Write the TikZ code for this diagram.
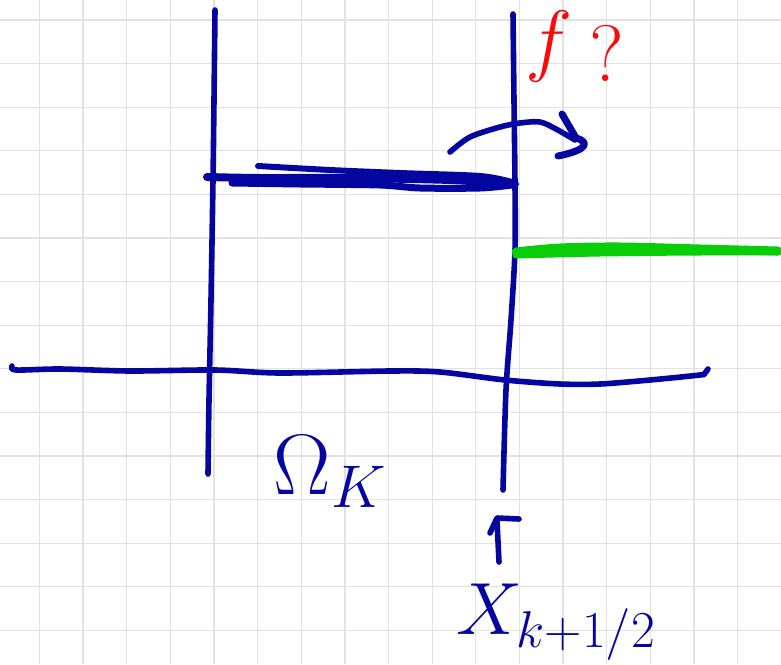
\RequirePackage{fix-cm}
\documentclass[tikz,border=0pt]{standalone}
\definecolor{ink}{RGB}{5,5,160}
\definecolor{inkred}{RGB}{250,10,10}
\definecolor{inkgreen}{RGB}{8,205,8}
\definecolor{gridgray}{RGB}{226,226,226}
\tikzset{
  gridline/.style={draw=gridgray,line width=1.3pt},
  pen/.style={draw=ink,line width=5.6pt,line cap=round,line join=round},
  marker/.style={draw=inkgreen,line cap=round,line join=round},
  label/.style={inner sep=0pt,text=ink},
}
\begin{document}
\begin{tikzpicture}[x=1pt,y=-1pt]
  \fill[white] (0,0) rectangle (781,664);
  \useasboundingbox (0,0) rectangle (781,664);
  % squared paper
  \foreach \k in {0,...,17} \draw[gridline] ({39.3+43.65*\k},0) -- ++(0,664);
  \foreach \k in {0,...,14} \draw[gridline] (0,{20+43.6*\k}) -- ++(781,0);

  % cell boundaries
  \draw[pen] plot[smooth] coordinates {(215,10) (214,100) (213,180) (211,300) (209,400) (208,474)};
  \draw[pen] plot[smooth] coordinates {(513,14) (514,100) (515,185) (515,250) (511,320) (506,390) (503,490)};

  % horizontal axis
  \draw[pen] plot[smooth] coordinates {(12,366) (16,370) (60,369) (130,371) (215,370) (280,373) (390,371) (440,372) (505,380) (560,384) (600,384) (650,380) (700,375) (704,374) (708,369)};

  % thick level inside the cell
  \draw[pen,line width=8pt] plot[smooth] coordinates {(207,177) (260,178) (350,178) (450,180) (515,184)};
  \draw[pen,line width=6pt] plot[smooth] coordinates {(258,166) (330,170) (400,173) (480,176) (512,182)};
  \draw[pen,line width=7pt] plot[smooth] coordinates {(232,183) (300,184) (380,185) (420,188) (480,188) (512,185)};

  % flux arrow across the interface
  \draw[pen] plot[smooth] coordinates {(450,152) (470,137) (500,127) (520,123) (540,122) (556,129) (575,140)};
  \draw[pen,line width=7pt] (562,114) -- (576,138) .. controls (590,142) and (588,150) .. (558,156);

  % neighbouring value
  \draw[marker,line width=9pt] plot[smooth] coordinates {(516,252) (560,248) (620,247) (700,249) (778,251)};
  \draw[marker,line width=7pt] plot[smooth] coordinates {(516,255) (600,253) (700,252) (778,252)};

  % pointer to the interface
  \draw[pen] (499,562) -- (497,521);
  \draw[pen] (490,533) -- (497,518) -- (519,519);

  % labels
  \node[label,text=inkred] (flux) at (549,46) {\fontsize{80}{80}\selectfont$f$};
  \node[label,text=inkred] (ask) at (607,54) {\fontsize{80}{80}\selectfont$?$};
  \node[label] (cell) at (330,472) {\fontsize{86}{86}\selectfont$\Omega_K$};
  \node[label] (iface) at (556,622) {\fontsize{74}{74}\selectfont$X_{k+1/2}$};
\end{tikzpicture}
\end{document}
